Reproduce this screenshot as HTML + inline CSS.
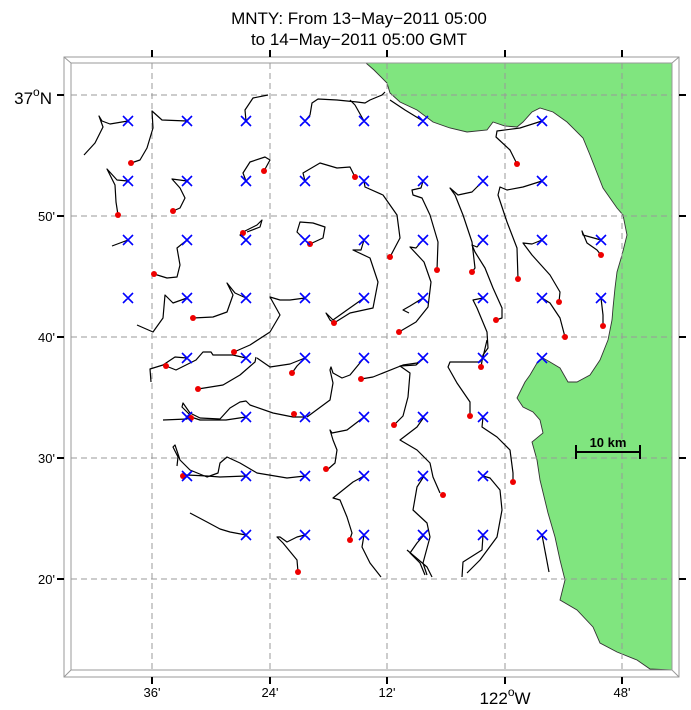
<!DOCTYPE html>
<html><head><style>
body{margin:0;background:#fff;}
svg{display:block;font-family:"Liberation Sans",sans-serif;}
</style></head><body>
<svg width="691" height="710" xmlns="http://www.w3.org/2000/svg">
<text x="359" y="24" font-size="17" text-anchor="middle">MNTY: From 13−May−2011 05:00</text>
<text x="359" y="45" font-size="17" text-anchor="middle">to 14−May−2011 05:00 GMT</text>
<!-- land -->
<path d="M366,63 L374,70 L387,83 L390,93 L400,102 L417,110 L433,122 L450,128 L467,132 L487,130 L493,122 L505,126 L517,127 L523,122 L532,112 L540,108 L553,112 L567,122 L583,138 L590,155 L603,188 L617,208 L623,215 L627,235 L622,255 L617,272 L615,288 L613,308 L612,320 L608,340 L600,360 L590,375 L577,382 L568,382 L560,368 L550,362 L543,358 L537,363 L530,375 L525,382 L517,398 L523,407 L533,412 L540,420 L543,433 L532,442 L537,460 L540,480 L548,513 L555,537 L560,560 L565,580 L560,600 L577,610 L593,627 L600,643 L617,652 L637,660 L650,669 L672,670 L672,63 Z" fill="#80e57f" stroke="#333" stroke-width="0.9"/>
<!-- grid -->
<g stroke="#999" stroke-dasharray="6,4" stroke-width="1">
<line x1="152" y1="63" x2="152" y2="670"/><line x1="270" y1="63" x2="270" y2="670"/><line x1="387" y1="63" x2="387" y2="670"/><line x1="505" y1="63" x2="505" y2="670"/><line x1="622" y1="63" x2="622" y2="670"/>
<line x1="71" y1="95" x2="672" y2="95"/><line x1="71" y1="216" x2="672" y2="216"/><line x1="71" y1="337" x2="672" y2="337"/><line x1="71" y1="458" x2="672" y2="458"/><line x1="71" y1="579" x2="672" y2="579"/>
</g>
<!-- frame -->
<rect x="64" y="57" width="615" height="620" fill="none" stroke="#999"/>
<rect x="71" y="63" width="601" height="607" fill="none" stroke="#999"/>
<g stroke="#999"><line x1="64" y1="57" x2="71" y2="63"/><line x1="679" y1="57" x2="672" y2="63"/><line x1="64" y1="677" x2="71" y2="670"/><line x1="679" y1="677" x2="672" y2="670"/></g>
<g stroke="#000" stroke-width="2">
<line x1="152" y1="50" x2="152" y2="57"/><line x1="270" y1="50" x2="270" y2="57"/><line x1="387" y1="50" x2="387" y2="57"/><line x1="505" y1="50" x2="505" y2="57"/><line x1="622" y1="50" x2="622" y2="57"/>
<line x1="152" y1="677" x2="152" y2="684"/><line x1="270" y1="677" x2="270" y2="684"/><line x1="387" y1="677" x2="387" y2="684"/><line x1="505" y1="677" x2="505" y2="684"/><line x1="622" y1="677" x2="622" y2="684"/>
<line x1="57" y1="95" x2="64" y2="95"/><line x1="57" y1="216" x2="64" y2="216"/><line x1="57" y1="337" x2="64" y2="337"/><line x1="57" y1="458" x2="64" y2="458"/><line x1="57" y1="579" x2="64" y2="579"/>
<line x1="679" y1="95" x2="686" y2="95"/><line x1="679" y1="216" x2="686" y2="216"/><line x1="679" y1="337" x2="686" y2="337"/><line x1="679" y1="458" x2="686" y2="458"/><line x1="679" y1="579" x2="686" y2="579"/>
</g>
<g font-size="13" text-anchor="middle">
<text x="152" y="697">36'</text><text x="270" y="697">24'</text><text x="387" y="697">12'</text><text x="622" y="697">48'</text>
</g>
<text x="505" y="704" font-size="17" text-anchor="middle">122<tspan font-size="12" dy="-8">o</tspan><tspan dy="8">W</tspan></text>
<text x="52" y="104" font-size="17" text-anchor="end">37<tspan font-size="12" dy="-8">o</tspan><tspan dy="8">N</tspan></text>
<g font-size="13" text-anchor="end">
<text x="55" y="221">50'</text><text x="55" y="342">40'</text><text x="55" y="463">30'</text><text x="55" y="584">20'</text>
</g>
<!-- scale -->
<g stroke="#000" stroke-width="2"><line x1="576" y1="452" x2="640" y2="452"/><line x1="576" y1="445" x2="576" y2="459"/><line x1="640" y1="445" x2="640" y2="459"/></g>
<text x="608" y="447" font-size="13" font-weight="bold" text-anchor="middle">10 km</text>
<!-- tracks -->
<g fill="none" stroke="#000" stroke-width="1.2" stroke-linejoin="round">
<path d="M128,121 L110,124 L102,121 L99,116 L103,127 L95,143 L84,155"/>
<path d="M187,121 L162,120 L152,111 L153,128 L147,148 L140,160 L131,163"/>
<path d="M246,121 L245,110 L253,98 L268,95"/>
<path d="M305,121 L310,115 L312,103 L318,99 L337,100 L357,102 L365,103 L370,100 L382,95 L385,92"/>
<path d="M364,121 L355,105 L350,100"/>
<path d="M423,121 L405,110 L390,100"/>
<path d="M542,121 L520,128 L497,131 L496,137 L510,150 L517,164"/>
<path d="M128,181 L117,180 L107,169 L115,185 L116,202 L118,215"/>
<path d="M187,181 L172,179 L180,188 L185,198 L180,208 L173,211"/>
<path d="M246,181 L243,173 L250,162 L265,157 L270,160 L264,171"/>
<path d="M305,181 L303,173 L320,163 L337,168 L350,167 L355,177"/>
<path d="M364,181 L365,187 L383,195 L397,215 L400,238 L390,257"/>
<path d="M423,181 L421,188 L412,190 L413,195 L422,198 L430,215 L438,242 L437,270"/>
<path d="M483,181 L472,192 L458,195 L450,188 L455,195 L463,215 L472,242 L475,268 L472,272"/>
<path d="M542,181 L523,187 L507,190 L500,187 L498,195 L507,222 L517,248 L518,279"/>
<path d="M128,240 L112,246"/>
<path d="M187,240 L177,248 L180,265 L177,277 L167,278 L154,274"/>
<path d="M246,240 L240,235 L243,232 L257,225 L262,220 L260,227 L247,232"/>
<path d="M305,240 L297,232 L300,222 L313,223 L325,227 L323,238 L310,244"/>
<path d="M364,240 L361,250 L353,250 L370,258 L378,282 L373,308 L350,313 L334,323"/>
<path d="M423,240 L416,248 L410,247 L424,262 L431,282 L428,307 L416,322 L399,332"/>
<path d="M483,240 L477,247 L472,245 L475,252 L485,268 L493,288 L502,308 L502,318 L496,320"/>
<path d="M542,240 L532,244 L523,243 L532,255 L550,275 L560,292 L559,302"/>
<path d="M601,240 L583,235 L582,231 L587,243 L597,250 L601,255"/>
<path d="M187,298 L173,303 L165,295 L163,318 L153,332 L137,325"/>
<path d="M246,298 L235,293 L227,283 L233,295 L227,312 L213,317 L193,318"/>
<path d="M305,298 L290,300 L280,300 L270,297 L280,315 L270,332 L250,345 L234,352"/>
<path d="M364,298 L347,310 L333,320 L326,313 L330,320 L334,323"/>
<path d="M423,298 L410,306 L403,310 L409,313"/>
<path d="M483,298 L473,300 L477,308 L487,332 L488,348 L483,355 L481,367"/>
<path d="M542,298 L550,303 L560,318 L565,337"/>
<path d="M601,298 L603,315 L603,326"/>
<path d="M187,358 L175,357 L163,365 L150,369 L151,382"/>
<path d="M246,358 L233,355 L213,355 L211,352 L203,352 L196,360 L176,370 L166,366"/>
<path d="M256,357 L255,362 L240,375 L223,385 L198,389"/>
<path d="M305,358 L297,366 L292,373"/>
<path d="M305,358 L290,364 L270,367 L257,358"/>
<path d="M364,358 L350,375 L342,378 L333,373 L331,367 L330,370 L333,383 L330,400 L307,417"/>
<path d="M424,358 L417,363 L403,365 L373,377 L361,379"/>
<path d="M424,358 L416,365 L400,366 L410,373 L408,397 L403,416 L394,425"/>
<path d="M487,340 L483,357 L480,362 L450,362 L448,367 L457,383 L470,402 L470,417"/>
<path d="M305,417 L293,417 L273,413 L250,405 L246,401 L240,402 L230,408 L220,419 L200,418 L190,413 L183,403 L182,407 L190,415 L187,419 L163,420"/>
<path d="M246,417 L226,420 L200,420 L191,417"/>
<path d="M364,417 L347,430 L332,433 L330,430 L333,440 L337,450 L335,463 L327,470"/>
<path d="M424,417 L417,427 L400,440 L417,450 L430,463 L433,477 L440,493"/>
<path d="M483,417 L482,427 L497,437 L510,450 L513,473 L513,482"/>
<path d="M305,476 L287,478 L257,473 L240,463 L227,457 L220,463 L218,473 L207,477 L190,470 L180,460 L175,445 L173,447 L178,457 L177,466"/>
<path d="M246,476 L220,477 L207,476 L187,475 L183,476"/>
<path d="M364,476 L353,482 L333,498 L340,500 L347,517 L352,533 L350,539"/>
<path d="M424,476 L417,487 L413,510 L427,523 L430,537 L423,563 L427,575"/>
<path d="M483,476 L490,478 L500,490 L502,510 L497,537 L480,560 L467,573"/>
<path d="M246,535 L230,532 L220,529 L207,522 L190,513"/>
<path d="M305,535 L297,537 L287,542 L280,537 L277,537 L283,543 L297,560 L298,572"/>
<path d="M364,535 L362,547 L370,563 L381,577"/>
<path d="M424,535 L417,543 L410,553 L420,563 L425,575"/>
<path d="M407,550 L427,567 L432,577"/>
<path d="M483,535 L482,550 L463,562 L462,577"/>
<path d="M542,535 L549,572"/>
</g>
<!-- red dots -->
<g fill="#e00">
<circle cx="131" cy="163" r="3"/><circle cx="118" cy="215" r="3"/><circle cx="173" cy="211" r="3"/><circle cx="264" cy="171" r="3"/><circle cx="355" cy="177" r="3"/><circle cx="517" cy="164" r="3"/><circle cx="243" cy="233" r="3"/><circle cx="310" cy="244" r="3"/><circle cx="390" cy="257" r="3"/><circle cx="437" cy="270" r="3"/><circle cx="472" cy="272" r="3"/><circle cx="518" cy="279" r="3"/><circle cx="601" cy="255" r="3"/><circle cx="154" cy="274" r="3"/><circle cx="193" cy="318" r="3"/><circle cx="334" cy="323" r="3"/><circle cx="399" cy="332" r="3"/><circle cx="496" cy="320" r="3"/><circle cx="559" cy="302" r="3"/><circle cx="565" cy="337" r="3"/><circle cx="603" cy="326" r="3"/><circle cx="234" cy="352" r="3"/><circle cx="292" cy="373" r="3"/><circle cx="361" cy="379" r="3"/><circle cx="481" cy="367" r="3"/><circle cx="166" cy="366" r="3"/><circle cx="198" cy="389" r="3"/><circle cx="191" cy="418" r="3"/><circle cx="294" cy="414" r="3"/><circle cx="394" cy="425" r="3"/><circle cx="470" cy="416" r="3"/><circle cx="326" cy="469" r="3"/><circle cx="443" cy="495" r="3"/><circle cx="513" cy="482" r="3"/><circle cx="183" cy="476" r="3"/><circle cx="350" cy="540" r="3"/><circle cx="298" cy="572" r="3"/>
</g>
<!-- x markers -->
<g stroke="#00f" stroke-width="1.6">
<path d="M123,116 l10,10 m0,-10 l-10,10 M182,116 l10,10 m0,-10 l-10,10 M241,116 l10,10 m0,-10 l-10,10 M300,116 l10,10 m0,-10 l-10,10 M359,116 l10,10 m0,-10 l-10,10 M418,116 l10,10 m0,-10 l-10,10 M537,116 l10,10 m0,-10 l-10,10"/>
<path d="M123,176 l10,10 m0,-10 l-10,10 M182,176 l10,10 m0,-10 l-10,10 M241,176 l10,10 m0,-10 l-10,10 M300,176 l10,10 m0,-10 l-10,10 M359,176 l10,10 m0,-10 l-10,10 M418,176 l10,10 m0,-10 l-10,10 M478,176 l10,10 m0,-10 l-10,10 M537,176 l10,10 m0,-10 l-10,10"/>
<path d="M123,235 l10,10 m0,-10 l-10,10 M182,235 l10,10 m0,-10 l-10,10 M241,235 l10,10 m0,-10 l-10,10 M300,235 l10,10 m0,-10 l-10,10 M359,235 l10,10 m0,-10 l-10,10 M418,235 l10,10 m0,-10 l-10,10 M478,235 l10,10 m0,-10 l-10,10 M537,235 l10,10 m0,-10 l-10,10 M596,235 l10,10 m0,-10 l-10,10"/>
<path d="M123,293 l10,10 m0,-10 l-10,10 M182,293 l10,10 m0,-10 l-10,10 M241,293 l10,10 m0,-10 l-10,10 M300,293 l10,10 m0,-10 l-10,10 M359,293 l10,10 m0,-10 l-10,10 M418,293 l10,10 m0,-10 l-10,10 M478,293 l10,10 m0,-10 l-10,10 M537,293 l10,10 m0,-10 l-10,10 M596,293 l10,10 m0,-10 l-10,10"/>
<path d="M182,353 l10,10 m0,-10 l-10,10 M241,353 l10,10 m0,-10 l-10,10 M300,353 l10,10 m0,-10 l-10,10 M359,353 l10,10 m0,-10 l-10,10 M418,353 l10,10 m0,-10 l-10,10 M478,353 l10,10 m0,-10 l-10,10 M537,353 l10,10 m0,-10 l-10,10"/>
<path d="M182,412 l10,10 m0,-10 l-10,10 M241,412 l10,10 m0,-10 l-10,10 M300,412 l10,10 m0,-10 l-10,10 M359,412 l10,10 m0,-10 l-10,10 M418,412 l10,10 m0,-10 l-10,10 M478,412 l10,10 m0,-10 l-10,10"/>
<path d="M182,471 l10,10 m0,-10 l-10,10 M241,471 l10,10 m0,-10 l-10,10 M300,471 l10,10 m0,-10 l-10,10 M359,471 l10,10 m0,-10 l-10,10 M418,471 l10,10 m0,-10 l-10,10 M478,471 l10,10 m0,-10 l-10,10"/>
<path d="M241,530 l10,10 m0,-10 l-10,10 M300,530 l10,10 m0,-10 l-10,10 M359,530 l10,10 m0,-10 l-10,10 M418,530 l10,10 m0,-10 l-10,10 M478,530 l10,10 m0,-10 l-10,10 M537,530 l10,10 m0,-10 l-10,10"/>
</g>
</svg>
</body></html>
